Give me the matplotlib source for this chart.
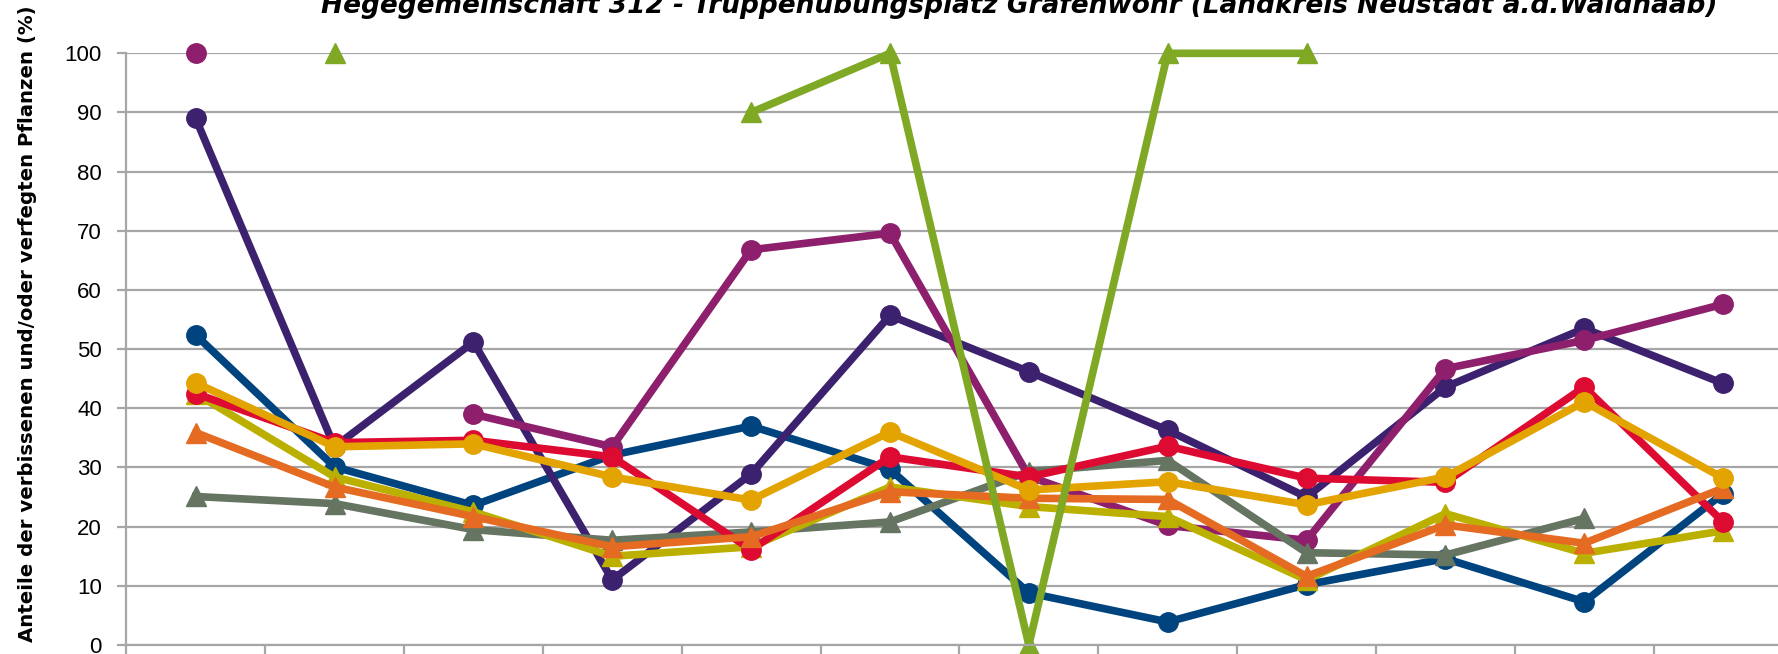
import numpy as np
import matplotlib
matplotlib.use('Agg')
import matplotlib.pyplot as plt

nan = np.nan

# 12 Kategorien (Beschriftungen im Original abgeschnitten)
categories = list(range(12))

# Anteile (%) je Baumart
s_blue = [52.4, 30.1, 23.6, 32.1, 37.0, 29.7, 8.8, 3.9, 10.2, 14.6, 7.3, 25.6]
s_purple = [89.0, 33.5, 51.2, 11.0, 28.9, 55.7, 46.2, 36.3, 25.0, 43.6, 53.5, 44.2]
s_plum = [100.0, nan, 39.0, 33.5, 66.8, 69.6, 28.5, 20.2, 17.7, 46.7, 51.5, 57.6]
s_red = [42.5, 34.2, 34.6, 31.8, 16.1, 31.8, 28.4, 33.6, 28.2, 27.5, 43.6, 20.8]
s_gray = [25.1, 23.9, 19.5, 17.7, 19.1, 20.8, 29.3, 31.2, 15.6, 15.2, 21.4, nan]
s_olive = [42.5, 28.4, 22.5, 15.0, 16.6, 26.7, 23.4, 21.7, 11.0, 22.2, 15.5, 19.3]
s_orange = [35.9, 26.7, 21.7, 16.6, 18.3, 25.9, 24.8, 24.6, 11.6, 20.3, 17.2, 26.5]
s_gold = [44.3, 33.5, 34.0, 28.4, 24.5, 36.0, 26.2, 27.6, 23.7, 28.4, 41.1, 28.2]
s_green = [nan, 100.0, nan, nan, 90.0, 100.0, 0.0, 100.0, 100.0, nan, nan, nan]

title = ("Hegegemeinschaft 312 - Truppenübungsplatz Grafenwöhr "
         "(Landkreis Neustadt a.d.Waldnaab)")
ylabel = "Anteile der verbissenen und/oder verfegten Pflanzen (%)"

# Reihenfolge = Zeichenreihenfolge (spätere liegen oben)
series = [
    (s_blue, '#00447f', 'o'),
    (s_purple, '#3c216e', 'o'),
    (s_plum, '#8e1f6c', 'o'),
    (s_gray, '#667462', '^'),
    (s_olive, '#bbb000', '^'),
    (s_red, '#dd0a31', 'o'),
    (s_orange, '#e46b21', '^'),
    (s_gold, '#e3a300', 'o'),
    (s_green, '#7fa925', '^'),
]

fig = plt.figure(figsize=(17.78, 6.54), dpi=100)
# Achse ragt rechts über den Bildrand hinaus (Original ist beschnitten)
ax = fig.add_axes([0.0710, 0.01376, 0.9372, 0.9047])

for vals, col, mk in series:
    ax.plot(categories, vals, color=col, lw=5.5, marker=mk, ms=14,
            mfc=col, mec=col, solid_joinstyle='round', clip_on=False)

ax.set_xlim(-0.5, 11.5)
ax.set_ylim(0, 100)
ax.set_yticks(range(0, 101, 10))
ax.set_xticks(np.arange(-0.5, 12, 1))
ax.set_xticklabels([])
ax.grid(axis='y', color='#a6a6a6', lw=1.6)
ax.set_axisbelow(True)
for side in ['top', 'right']:
    ax.spines[side].set_visible(False)
for side in ['left', 'bottom']:
    ax.spines[side].set_color('#a6a6a6')
    ax.spines[side].set_linewidth(1.6)
ax.tick_params(axis='y', length=6.5, width=1.6, color='#a6a6a6', pad=11,
               labelsize=16, labelcolor='black')
ax.tick_params(axis='x', length=7, width=1.6, color='#a6a6a6')
for lab in ax.get_yticklabels():
    lab.set_family(['Liberation Sans', 'DejaVu Sans'])

fig.text(0.0157, 0.5054, ylabel, rotation=90, ha='center', va='center',
         fontsize=14.2, fontweight='bold', family='DejaVu Sans')
fig.text(0.5734, 1 - 13 / 654, title, ha='center', va='baseline',
         fontsize=19, fontweight='bold', fontstyle='italic',
         family='DejaVu Sans')

fig.savefig('out.png', dpi=100)
